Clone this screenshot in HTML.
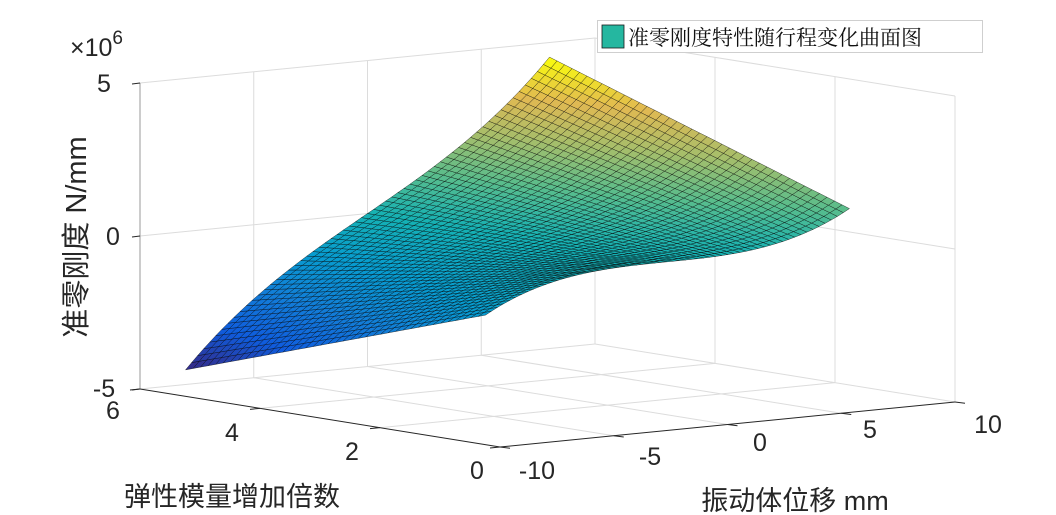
<!DOCTYPE html>
<html><head><meta charset="utf-8">
<style>
html,body{margin:0;padding:0;background:#fff;}
svg{display:block;font-family:"Liberation Sans","Noto Sans CJK SC",sans-serif;}
</style></head>
<body>
<svg id="s" width="1056" height="515" viewBox="0 0 1056 515" xmlns="http://www.w3.org/2000/svg">
<rect width="1056" height="515" fill="#fff"/>
<g id="grid" stroke="#dcdcdc" stroke-width="1" fill="none"></g>
<g id="axes" stroke="#262626" stroke-width="1" fill="none"></g>
<g id="surf"></g>
<g fill="#262626" font-size="25">
<text x="104" y="92" text-anchor="middle">5</text>
<text x="113" y="245" text-anchor="middle">0</text>
<text x="104" y="397" text-anchor="middle">-5</text>
<text x="70" y="56" font-size="25">×10<tspan dy="-12" font-size="19">6</tspan></text>
<text x="113" y="419" text-anchor="middle">6</text>
<text x="232" y="441" text-anchor="middle">4</text>
<text x="352" y="460" text-anchor="middle">2</text>
<text x="477" y="479" text-anchor="middle">0</text>
<text x="537" y="479" text-anchor="middle">-10</text>
<text x="650" y="465" text-anchor="middle">-5</text>
<text x="760" y="451" text-anchor="middle">0</text>
<text x="870" y="438" text-anchor="middle">5</text>
<text x="988" y="433" text-anchor="middle">10</text>
<text x="232" y="506" text-anchor="middle" font-size="27">弹性模量增加倍数</text>
<text x="795" y="510" text-anchor="middle" font-size="27">振动体位移 mm</text>
<text transform="translate(86,237) rotate(-90)" text-anchor="middle" font-size="29">准零刚度 N/mm</text>
</g>
<rect x="597.5" y="20.5" width="385" height="32" fill="#fff" stroke="#cfcfcf"/>
<rect x="602" y="25" width="22" height="23" fill="#25b7a0" stroke="#1a1a1a" stroke-width="0.8"/>
<text x="628" y="45" font-size="21" fill="#111" font-family="'Noto Serif CJK SC','Liberation Serif',serif">准零刚度特性随行程变化曲面图</text>
</svg>
<script>
(function(){
var NS="http://www.w3.org/2000/svg";
function P(x,y,z){return [500+(x+10)/20*455-y/6*360, 447-(x+10)/20*45-y/6*58-(z+5)/10*306];}
function line(g,a,b,attrs){var l=document.createElementNS(NS,"line");l.setAttribute("x1",a[0]);l.setAttribute("y1",a[1]);l.setAttribute("x2",b[0]);l.setAttribute("y2",b[1]);if(attrs)for(var k in attrs)l.setAttribute(k,attrs[k]);g.appendChild(l);}
var G=document.getElementById("grid"),A=document.getElementById("axes");
[-5,0,5,10].forEach(function(x){line(G,P(x,6,-5),P(x,6,5));});
[0,5].forEach(function(z){line(G,P(-10,6,z),P(10,6,z));});
[0,2,4].forEach(function(y){line(G,P(10,y,-5),P(10,y,5));});
[0,5].forEach(function(z){line(G,P(10,0,z),P(10,6,z));});
[-5,0,5].forEach(function(x){line(G,P(x,0,-5),P(x,6,-5));});
[2,4].forEach(function(y){line(G,P(-10,y,-5),P(10,y,-5));});
line(G,P(-10,6,-5),P(10,6,-5));line(G,P(10,0,-5),P(10,6,-5));
line(A,P(-10,6,-5),P(-10,6,5),{stroke:"#999"});
line(A,P(-10,6,-5),P(-10,0,-5));
line(A,P(-10,0,-5),P(10,0,-5));
[-10,-5,0,5,10].forEach(function(x){var a=P(x,0,-5);line(A,a,[a[0]+10,a[1]+1.3]);});
[0,2,4,6].forEach(function(y){var a=P(-10,y,-5);line(A,a,[a[0]-10,a[1]+1]);});
[-5,0,5].forEach(function(z){var a=P(-10,6,z);line(A,a,[a[0]-8,a[1]+1]);});
var stops=[[53,42,135],[15,92,221],[18,125,216],[7,156,207],[21,177,180],[89,189,140],[165,190,107],[225,185,82],[249,251,14]];
function col(t){t=Math.max(0,Math.min(1,t));var f=t*8,i=Math.min(7,Math.floor(f)),r=f-i,a=stops[i],b=stops[i+1];
return "rgb("+Math.round(a[0]+(b[0]-a[0])*r)+","+Math.round(a[1]+(b[1]-a[1])*r)+","+Math.round(a[2]+(b[2]-a[2])*r)+")";}
function Z(x,y){var u=(y-1)/5;var al=0.434*u, be=0.00225-0.0002*u;return al*x+be*x*x*x;}
var nx=60,ny=40,polys=[];
for(var i=0;i<nx;i++)for(var j=0;j<ny;j++){
 var x0=-8+16*i/nx,x1=-8+16*(i+1)/nx,y0=1+5*j/ny,y1=1+5*(j+1)/ny;
 var z00=Z(x0,y0),z10=Z(x1,y0),z11=Z(x1,y1),z01=Z(x0,y1);
 var zm=(z00+z10+z11+z01)/4;
 var pts=[P(x0,y0,z00),P(x1,y0,z10),P(x1,y1,z11),P(x0,y1,z01)];
 var xm=(x0+x1)/2,ym=(y0+y1)/2;
 polys.push({d:-((xm+10)*2.25+ym*9.67),pts:pts,c:col((zm+4.45)/8.9)});
}
polys.sort(function(a,b){return b.d-a.d;});
var S=document.getElementById("surf"),h="";
polys.forEach(function(p){h+='<polygon points="'+p.pts.map(function(q){return q[0].toFixed(1)+","+q[1].toFixed(1);}).join(" ")+'" fill="'+p.c+'" stroke="#000" stroke-opacity="0.7" stroke-width="0.5"/>';});
S.innerHTML=h;
})();
</script>
</body></html>
